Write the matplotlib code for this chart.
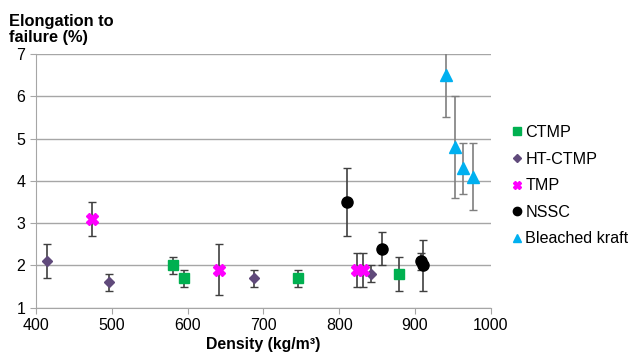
import numpy as np
import matplotlib
matplotlib.use('Agg')
import matplotlib.pyplot as plt
from matplotlib.lines import Line2D

plt.rcParams['font.family'] = ['Liberation Sans', 'DejaVu Sans']

# density (kg/m3), elongation (%), error (+/-)
ctmp_x = [581, 596, 746, 879]
ctmp_y = [2.0, 1.7, 1.7, 1.8]
ctmp_e = [0.2, 0.2, 0.2, 0.4]

ht_x = [414, 496, 688, 842]
ht_y = [2.1, 1.6, 1.7, 1.8]
ht_e = [0.4, 0.2, 0.2, 0.2]

tmp_x = [474, 641, 823, 831]
tmp_y = [3.1, 1.9, 1.9, 1.9]
tmp_e = [0.4, 0.6, 0.4, 0.4]

nssc_x = [810, 857, 908, 911]
nssc_y = [3.5, 2.4, 2.1, 2.0]
nssc_e = [0.8, 0.4, 0.2, 0.6]

kraft_x = [941, 953, 963, 977]
kraft_y = [6.5, 4.8, 4.3, 4.1]
kraft_e = [1.0, 1.2, 0.6, 0.8]

dpi = 100
fig = plt.figure(figsize=(630 / dpi, 357 / dpi), dpi=dpi, facecolor='white')
ax = fig.add_axes([0.057, 0.138, 0.722, 0.711])

series = [
    ('CTMP', ctmp_x, ctmp_y, ctmp_e, 's', '#00B050', 7, '#404040'),
    ('HT-CTMP', ht_x, ht_y, ht_e, 'D', '#604A7B', 5, '#404040'),
    ('TMP', tmp_x, tmp_y, tmp_e, 'X', '#FF00FF', 9, '#404040'),
    ('NSSC', nssc_x, nssc_y, nssc_e, 'o', '#000000', 8, '#404040'),
    ('Bleached kraft', kraft_x, kraft_y, kraft_e, '^', '#00B0F0', 8, '#7F7F7F'),
]

handles = []
for name, x, y, e, m, c, ms, ec in series:
    ax.errorbar(x, y, yerr=e, fmt=m, color=c, mec=c, ms=ms, ecolor=ec,
                elinewidth=1.2, capsize=3, capthick=1.0, zorder=3)
    handles.append(Line2D([], [], ls='none', marker=m, color=c, mec=c,
                          ms=6 if m != 'D' else 4.5, label=name))

ax.set_xlim(400, 1000)
ax.set_ylim(1, 7)
ax.set_xticks(np.arange(400, 1001, 100))
ax.set_yticks(np.arange(1, 8, 1))
ax.yaxis.grid(True, color='#A6A6A6', lw=1.0)
ax.set_axisbelow(True)
for s in ['top', 'right']:
    ax.spines[s].set_visible(False)
for s in ['left', 'bottom']:
    ax.spines[s].set_color('#A6A6A6')
ax.tick_params(axis='both', colors='#A6A6A6', labelcolor='black', labelsize=11.5,
               length=4, direction='out')

fig.text(0.015, 0.875, 'Elongation to\nfailure (%)', fontsize=11.8, fontweight='bold',
         ha='left', va='bottom', linespacing=1.05)
ax.set_xlabel('Density (kg/m³)', fontsize=11.4, fontweight='bold', labelpad=3)

ax.legend(handles=handles, loc='upper left', bbox_to_anchor=(1.035, 0.745), frameon=False,
          fontsize=11.6, handlelength=0.5, handletextpad=0.25, labelspacing=0.72,
          borderaxespad=0)

fig.savefig('out.png', dpi=dpi)
